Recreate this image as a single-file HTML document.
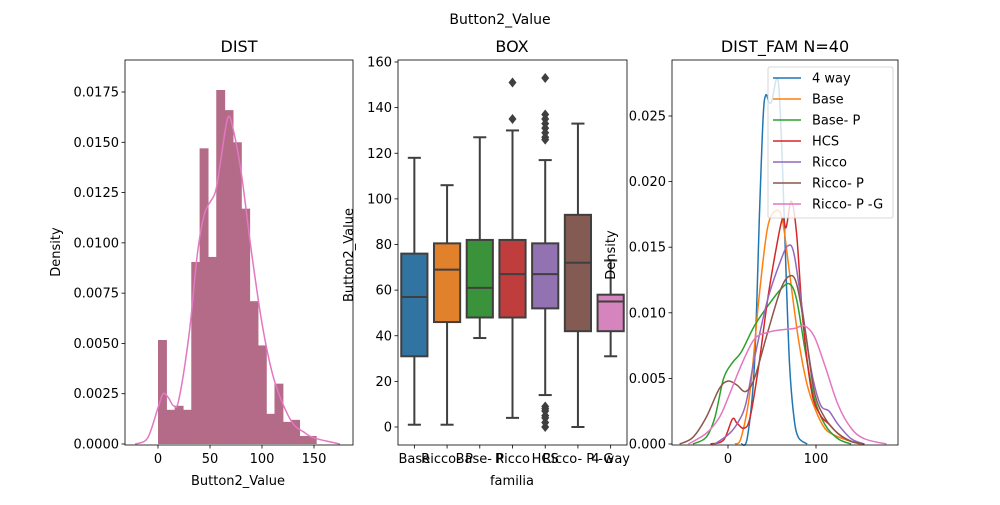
<!DOCTYPE html>
<html><head><meta charset="utf-8"><style>
body{margin:0;background:#fff}
svg{font-family:"DejaVu Sans","Liberation Sans",sans-serif}
</style></head><body>
<svg id="fig" width="1000" height="500" viewBox="0 0 1000 500">
<text x="500" y="24" font-size="14" text-anchor="middle">Button2_Value</text>
</svg>
<script>
// ---------- data ----------
const histBinStart = 0;
const histBinWidth = 8.0;
const histDensity = [0.00517,0.0017,0.0019,0.0017,0.00905,0.0147,0.0093,0.0176,0.0166,0.0150,0.0117,0.0071,0.0049,0.0015,0.0030,0.0011,0.0012,0.0004,0.0004];
const kdeX = [-22,-10,0,5,10,15,20,30,38,45,55,60,67,72,80,90,100,110,120,130,140,150,175];
const kdeY = [0,0.0003,0.0018,0.0025,0.0023,0.0019,0.0022,0.0055,0.0095,0.0115,0.0125,0.0140,0.0162,0.0157,0.0135,0.0095,0.0060,0.0035,0.0020,0.0010,0.0006,0.0003,0];
const histYTicks = [0,0.0025,0.005,0.0075,0.01,0.0125,0.015,0.0175];
const histYLabels = ["0.0000","0.0025","0.0050","0.0075","0.0100","0.0125","0.0150","0.0175"];
const histXTicks = [0,50,100,150];

const boxCats = ["Base","Ricco- P","Base- P","Ricco","HCS","Ricco- P -G","4 way"];
const boxColors = ["#3274a1","#e1812c","#3a923a","#c03d3e","#9372b2","#845b53","#d684bd"];
const boxLow = [1,1,39,4,14,0,31];
const boxQ1 = [31,46,48,48,52,42,42];
const boxMed = [57,69,61,67,67,72,55];
const boxQ3 = [76,80.5,82,82,80.5,93,58];
const boxHigh = [118,106,127,130,117,133,73];
const boxOutliers = [[],[],[],[135,151],[153,137,135,133,131,129,127,126,9,8,7,5,4,2,0],[],[]];
const boxYTicks = [0,20,40,60,80,100,120,140,160];

const famNames = ["4 way","Base","Base- P","HCS","Ricco","Ricco- P","Ricco- P -G"];
const famColors = ["#1f77b4","#ff7f0e","#2ca02c","#d62728","#9467bd","#8c564b","#e377c2"];
const famX0 = [15,22,30,36,40,43,47,50,55,58,62,66,70,75,80,90];
const famY0 = [0,0.0005,0.006,0.018,0.025,0.0266,0.026,0.0262,0.0278,0.027,0.021,0.013,0.006,0.002,0.0005,0];
const famX1 = [8,15,25,35,45,55,62,70,80,90,100,110,120,135,150];
const famY1 = [0,0.0005,0.004,0.011,0.0165,0.0178,0.017,0.013,0.008,0.0045,0.0025,0.0012,0.0007,0.0003,0];
const famX2 = [-40,-25,-15,-5,5,15,30,45,60,70,78,88,98,110,125,140];
const famY2 = [0,0.0005,0.002,0.005,0.0062,0.007,0.009,0.0105,0.0118,0.0122,0.011,0.007,0.0035,0.0015,0.0004,0];
const famX3 = [-20,-5,5,10,18,25,35,45,55,62,66,72,78,85,95,105,115,125,140,155];
const famY3 = [0,0.0003,0.0019,0.0016,0.0012,0.002,0.006,0.011,0.015,0.0172,0.0165,0.0185,0.016,0.0095,0.004,0.0022,0.0015,0.0008,0.0002,0];
const famX4 = [-15,0,10,20,30,45,60,68,75,85,95,105,115,125,140,155];
const famY4 = [0,0.0007,0.0015,0.003,0.0065,0.011,0.014,0.0151,0.0145,0.01,0.0055,0.003,0.0025,0.0015,0.0004,0];
const famX5 = [-55,-40,-25,-10,0,10,20,30,45,60,70,78,88,98,110,125,140,155];
const famY5 = [0,0.0005,0.002,0.0042,0.0048,0.0045,0.004,0.005,0.0085,0.0118,0.0128,0.0122,0.0085,0.004,0.002,0.0008,0.0002,0];
const famX6 = [-45,-25,-10,0,15,30,45,60,75,87,98,110,125,140,155,180];
const famY6 = [0,0.0008,0.002,0.0035,0.006,0.008,0.0085,0.0087,0.0088,0.0090,0.0082,0.006,0.003,0.0012,0.0004,0];
const famYTicks = [0,0.005,0.01,0.015,0.02,0.025];
const famYLabels = ["0.000","0.005","0.010","0.015","0.020","0.025"];
const famXTicks = [0,100];

// ---------- helpers ----------
const svg = document.getElementById('fig');
const NS = 'http://www.w3.org/2000/svg';
function mk(tag, attrs, parent){const e=document.createElementNS(NS,tag);for(const k in attrs)e.setAttribute(k,attrs[k]);(parent||svg).appendChild(e);return e;}
function lin(d0,d1,r0,r1){return v=>r0+(v-d0)*(r1-r0)/(d1-d0);}
function smooth(pts){let d='M'+pts[0][0]+','+pts[0][1];for(let i=0;i<pts.length-1;i++){const p0=pts[i-1]||pts[i],p1=pts[i],p2=pts[i+1],p3=pts[i+2]||p2;const c1x=p1[0]+(p2[0]-p0[0])/6,c1y=p1[1]+(p2[1]-p0[1])/6,c2x=p2[0]-(p3[0]-p1[0])/6,c2y=p2[1]-(p3[1]-p1[1])/6;d+=' C'+c1x+','+c1y+' '+c2x+','+c2y+' '+p2[0]+','+p2[1];}return d;}
function frame(x0,y0,x1,y1,name){const r=mk('rect',{x:x0,y:y0,width:x1-x0,height:y1-y0,fill:'none',stroke:'#000','stroke-width':0.8});}
function yTick(x,y,label,name){const l=mk('line',{x1:x-3.5,x2:x,y1:y,y2:y,stroke:'#000','stroke-width':0.8});const t=mk('text',{x:x-6,y:y+4.5,'font-size':13,'text-anchor':'end'});t.textContent=label;}
function xTick(x,y,label,name){const l=mk('line',{x1:x,x2:x,y1:y,y2:y+3.5,stroke:'#000','stroke-width':0.8});const t=mk('text',{x:x,y:y+18,'font-size':13,'text-anchor':'middle'});t.textContent=label;}
function txt(x,y,s,size,name,rot){const t=mk('text',{x:x,y:y,'font-size':size,'text-anchor':'middle'});if(rot)t.setAttribute('transform','rotate(-90 '+x+' '+y+')');t.textContent=s;}

// ---------- panel 1: DIST ----------
{
const L=125,R=353,T=60,B=445;
const xs=lin(0,150,158,314), ys=lin(0,0.0175,444,92);
histDensity.forEach((d,i)=>{const x0=xs(histBinStart+i*histBinWidth),x1=xs(histBinStart+(i+1)*histBinWidth);
const r=mk('rect',{x:x0,y:ys(d),width:x1-x0+0.6,height:ys(0)-ys(d),fill:'#b36b88'});

});
const p=mk('path',{d:smooth(kdeX.map((x,i)=>[xs(x),ys(kdeY[i])])),fill:'none',stroke:'#e377c2','stroke-width':1.5});


frame(L,T,R,B,'dist-axes');
histYTicks.forEach((v,i)=>yTick(L,ys(v),histYLabels[i],'dist-y'));
histXTicks.forEach(v=>xTick(xs(v),B,String(v),'dist-x'));
txt(239,52,'DIST',16,'dist-title');
txt(238,485,'Button2_Value',13,'dist-x-title');
txt(60,252,'Density',13,'dist-y-title',true);
}

// ---------- panel 2: BOX ----------
{
const L=398,R=627,T=60,B=445;
const ys=lin(0,160,427,62);
const step=(R-L)/boxCats.length, w=step*0.8;
const cx=i=>L+step*(i+0.5);
boxCats.forEach((c,i)=>{
 const x=cx(i),g='#3f3f3f';
 const wl=mk('line',{x1:x,x2:x,y1:ys(boxLow[i]),y2:ys(boxQ1[i]),stroke:g,'stroke-width':2});
 const wh=mk('line',{x1:x,x2:x,y1:ys(boxQ3[i]),y2:ys(boxHigh[i]),stroke:g,'stroke-width':2});
 const c1=mk('line',{x1:x-w/4,x2:x+w/4,y1:ys(boxLow[i]),y2:ys(boxLow[i]),stroke:g,'stroke-width':2});
 const c2=mk('line',{x1:x-w/4,x2:x+w/4,y1:ys(boxHigh[i]),y2:ys(boxHigh[i]),stroke:g,'stroke-width':2});
 const r=mk('rect',{x:x-w/2,y:ys(boxQ3[i]),width:w,height:ys(boxQ1[i])-ys(boxQ3[i]),fill:boxColors[i],stroke:g,'stroke-width':2});
 
 
 const m=mk('line',{x1:x-w/2,x2:x+w/2,y1:ys(boxMed[i]),y2:ys(boxMed[i]),stroke:g,'stroke-width':2});
 boxOutliers[i].forEach(o=>{const d=mk('path',{d:`M${x},${ys(o)-5} L${x+4},${ys(o)} L${x},${ys(o)+5} L${x-4},${ys(o)} Z`,fill:g});});
 xTick(x,B,c,'box-x');
});
frame(L,T,R,B,'box-axes');
boxYTicks.forEach(v=>yTick(L,ys(v),String(v),'box-y'));
txt(512,52,'BOX',16,'box-title');
txt(512,485,'familia',13,'box-x-title');
txt(353,255,'Button2_Value',13,'box-y-title',true);
}

// ---------- panel 3: DIST_FAM ----------
{
const L=672,R=898,T=60,B=445;
const xs=lin(0,100,728,816), ys=lin(0,0.025,444,116);
const fx=[famX0,famX1,famX2,famX3,famX4,famX5,famX6], fy=[famY0,famY1,famY2,famY3,famY4,famY5,famY6];
famNames.forEach((n,i)=>{const p=mk('path',{d:smooth(fx[i].map((x,j)=>[xs(x),ys(fy[i][j])])),fill:'none',stroke:famColors[i],'stroke-width':1.5});

});
frame(L,T,R,B,'fam-axes');
famYTicks.forEach((v,i)=>yTick(L,ys(v),famYLabels[i],'fam-y'));
famXTicks.forEach(v=>xTick(xs(v),B,String(v),'fam-x'));
txt(785,52,'DIST_FAM N=40',16,'fam-title');
txt(615,255,'Density',13,'fam-y-title',true);
const lg=mk('rect',{x:768,y:67,width:125,height:151,fill:'#fff','fill-opacity':0.8,stroke:'#ccc','stroke-width':0.8,rx:2});


famNames.forEach((n,i)=>{const y=78+i*21;
 const l=mk('line',{x1:773,x2:801,y1:y,y2:y,stroke:famColors[i],'stroke-width':1.5});
 const t=mk('text',{x:812,y:y+4.5,'font-size':13});t.textContent=n;});
}
</script>
</body></html>
